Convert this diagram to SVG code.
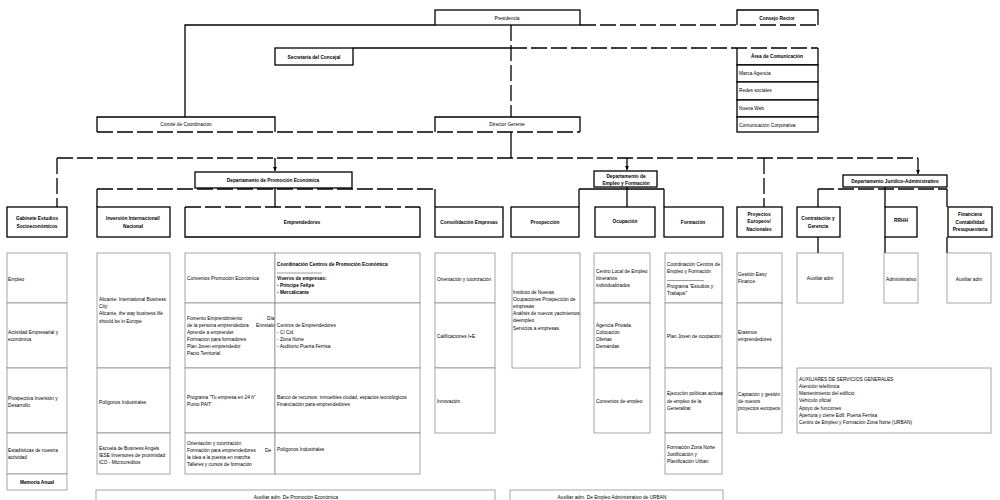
<svg xmlns="http://www.w3.org/2000/svg" width="1000" height="500" viewBox="0 0 1000 500">
<style>
.b{fill:#fff;stroke:#000;stroke-width:1.3}
.o{fill:none;stroke:#000;stroke-width:1.3}
.c{fill:#fff;stroke:#808080;stroke-width:0.7}
.t{font-family:"Liberation Sans",Arial,sans-serif;font-size:4.8px;fill:#000}
.h{font-weight:bold;text-anchor:middle}
.m{text-anchor:middle}
.k{font-weight:bold}
.s{fill:none;stroke:#000;stroke-width:1.3}
.d{fill:none;stroke:#000;stroke-width:1.3;stroke-dasharray:16 4}
</style>
<defs>
<marker id="arr" viewBox="0 0 6 6" refX="6" refY="3" markerWidth="3" markerHeight="3" orient="auto"><path d="M0,0 L6,3 L0,6 z" fill="#000"/></marker>
</defs>
<rect width="1000" height="500" fill="#fff"/>

<g id="connectors">
<polyline class="s" points="185,117 185,25 435,25"/>
<line class="d" x1="580" y1="25" x2="818" y2="25"/>
<line class="s" x1="353" y1="48" x2="511" y2="48"/>
<line class="d" x1="511" y1="48" x2="818" y2="48"/>
<line class="d" x1="511" y1="25" x2="511" y2="117"/>
<line class="d" x1="97" y1="132" x2="580" y2="132"/>
<line class="s" x1="511" y1="132" x2="511" y2="158"/>
<line class="d" x1="57" y1="158" x2="918" y2="158"/>
<line class="d" x1="57" y1="158" x2="57" y2="207"/>
<line class="s" x1="275" y1="158" x2="275" y2="171" marker-end="url(#arr)"/>
<line class="s" x1="627" y1="158" x2="627" y2="170" marker-end="url(#arr)"/>
<line class="d" x1="764" y1="158" x2="764" y2="207"/>
<line class="s" x1="918" y1="158" x2="918" y2="174" marker-end="url(#arr)"/>
<line class="d" x1="97" y1="189" x2="435" y2="189"/>
<line class="s" x1="97" y1="189" x2="97" y2="207"/>
<line class="s" x1="275" y1="188" x2="275" y2="207"/>
<line class="s" x1="435" y1="189" x2="435" y2="207"/>
<line class="s" x1="579" y1="189" x2="664" y2="189"/>
<line class="s" x1="579" y1="189" x2="579" y2="207"/>
<line class="s" x1="627" y1="187" x2="627" y2="207"/>
<line class="s" x1="664" y1="189" x2="664" y2="207"/>
<line class="d" x1="818" y1="189" x2="947" y2="189"/>
<line class="s" x1="818" y1="189" x2="818" y2="207"/>
<line class="s" x1="885" y1="187" x2="885" y2="207"/>
<line class="s" x1="947" y1="189" x2="947" y2="207"/>
<line class="s" x1="818" y1="237" x2="818" y2="253"/>
<line class="s" x1="885" y1="237" x2="885" y2="253"/>
<line class="s" x1="947" y1="237" x2="947" y2="253"/>
</g>

<g id="presidencia"><rect class="b" x="435" y="10" width="145" height="15"/><text class="t m" x="507" y="19.5">Presidencia</text></g>
<g id="consejo-rector"><path class="o" d="M737,25 V10 H818 V25" fill="#fff"/><text class="t h" x="777" y="19.5">Consejo Rector</text></g>
<g id="secretaria"><rect class="b" x="275" y="48" width="78" height="17"/><text class="t h" x="314" y="58.5">Secretaría del Concejal</text></g>
<g id="area-comunicacion">
<path class="o" d="M737,48 V65 H818 V48"/>
<text class="t h" x="777" y="57.5">Área de Comunicación</text>
<rect class="b" x="737" y="65" width="81" height="17"/><text class="t" x="739" y="75">Marca Agencia</text>
<rect class="b" x="737" y="82" width="81" height="18"/><text class="t" x="739" y="92">Redes sociales</text>
<rect class="b" x="737" y="100" width="81" height="17"/><text class="t" x="739" y="110">Nueva Web</text>
<rect class="b" x="737" y="117" width="81" height="15"/><text class="t" x="739" y="126.5">Comunicación  Corporativa</text>
</g>
<g id="comite"><path class="o" d="M97,132 V117 H275 V132"/><text class="t m" x="186" y="126">Comité de Coordinación</text></g>
<g id="director"><path class="o" d="M435,132 V117 H580 V132"/><text class="t m" x="507" y="126">Director Gerente</text></g>

<g id="dep-promocion"><rect class="b" x="195" y="172" width="157" height="16"/><text class="t h" x="273" y="181.5">Departamento de Promoción Económica</text></g>
<g id="dep-empleo"><rect class="b" x="594" y="171" width="63" height="16"/><text class="t h" x="626" y="177.5">Departamento de</text><text class="t h" x="626" y="185">Empleo y Formación</text></g>
<g id="dep-juridico"><rect class="b" x="843" y="175" width="104" height="12"/><text class="t h" x="895" y="182.5">Departamento Jurídico-Administrativo</text></g>

<g id="gabinete">
<rect class="b" x="7" y="207" width="60" height="30"/>
<text class="t h" x="37" y="219.5">Gabinete Estudios</text><text class="t h" x="37" y="227.5">Socioeconómicos</text>
<rect class="c" x="7" y="253" width="60" height="50"/><text class="t" x="8" y="280.5">Empleo</text>
<rect class="c" x="7" y="303" width="60" height="65"/><text class="t" x="8" y="333.5">Actividad Empresarial y</text><text class="t" x="8" y="341">económica</text>
<rect class="c" x="7" y="368" width="60" height="65"/><text class="t" x="8" y="399.5">Prospectiva  Inversión y</text><text class="t" x="8" y="407">Desarrollo</text>
<rect class="c" x="7" y="433" width="60" height="41"/><text class="t" x="8" y="451.5">Estadísticas de nuestra</text><text class="t" x="8" y="459">actividad</text>
<rect class="c" x="7" y="474" width="60" height="16"/><text class="t h" x="37" y="483.5">Memoria Anual</text>
</g>

<g id="inversion">
<rect class="b" x="97" y="207" width="73" height="30"/>
<text class="t h" x="133" y="219.5">Inversión Internacional/</text><text class="t h" x="133" y="227.5">Nacional</text>
<rect class="c" x="97" y="253" width="73" height="115"/>
<text class="t" x="99" y="300.5">Alicante: International Business</text><text class="t" x="99" y="307.5">City:</text><text class="t" x="99" y="315">Alicante, the way business life</text><text class="t" x="99" y="322.5">should be in Europe</text>
<rect class="c" x="97" y="368" width="73" height="65"/><text class="t" x="99" y="403.5">Polígonos Industriales</text>
<rect class="c" x="97" y="433" width="73" height="41"/>
<text class="t" x="99" y="449.5">Escuela de Business Angels</text><text class="t" x="99" y="456.5">IESE   Inversores de proximidad</text><text class="t" x="99" y="463.5">ICO  -  Microcréditos</text>
</g>

<g id="emprendedores">
<path class="o" d="M185,207 V237 H420 V207"/>
<line class="d" x1="185" y1="207" x2="420" y2="207"/>
<text class="t h" x="302" y="223.5">Emprendedores</text>
<rect class="c" x="185" y="253" width="90" height="50"/><text class="t" x="187" y="280">Convenios Promoción Económica</text>
<rect class="c" x="185" y="303" width="90" height="65"/>
<text class="t" x="187" y="319.5">Fomento Emprendimiento</text><text class="t" x="267" y="319.5">Día</text>
<text class="t" x="187" y="326.5">de la persona emprendedora</text><text class="t" x="256" y="326.5">Ennstalo</text>
<text class="t" x="187" y="333.5">Aprende a emprender</text><text class="t" x="187" y="340.5">Formacion para formadores</text><text class="t" x="187" y="347.5">Plan Joven emprendedor</text><text class="t" x="187" y="354.5">Pacto Territorial</text>
<rect class="c" x="185" y="368" width="90" height="65"/>
<text class="t" x="187" y="399">Programa "Tu empresa en 24 h"</text><text class="t" x="187" y="406">Punto PAIT</text>
<rect class="c" x="185" y="433" width="90" height="41"/>
<text class="t" x="187" y="444.5">Orientación y tutorización</text><text class="t" x="187" y="451.5">Formación para emprendedores</text><text class="t" x="265" y="451.5">De</text><text class="t" x="187" y="458.5">la idea a la puesta en marcha</text><text class="t" x="187" y="465.5">Talleres y cursos de formación</text>
<rect class="c" x="275" y="253" width="145" height="50"/>
<text class="t k" x="277" y="265.5">Coordinación Centros de Promoción Económica</text>
<line x1="277" y1="273" x2="322" y2="273" stroke="#000" stroke-width="0.4"/>
<text class="t k" x="277" y="280">Viveros de empresas:</text><text class="t k" x="277" y="287">- Príncipe Felipe</text><text class="t k" x="277" y="294">- Mercalicante</text>
<rect class="c" x="275" y="303" width="145" height="65"/>
<text class="t" x="277" y="326.5">Centros de Emprendedores</text><text class="t" x="277" y="333.5">- C/ Cid</text><text class="t" x="277" y="340.5">- Zona Norte</text><text class="t" x="277" y="347.5">- Auditorio Puerta Ferrisa</text>
<rect class="c" x="275" y="368" width="145" height="65"/>
<text class="t" x="277" y="399">Banco de recursos: inmuebles ciudad, espacios tecnológicos</text><text class="t" x="277" y="406">Financiación para emprendedores</text>
<rect class="c" x="275" y="433" width="145" height="41"/><text class="t" x="277" y="451">Polígonos Industriales</text>
</g>

<g id="consolidacion">
<rect class="b" x="435" y="207" width="68" height="30"/><text class="t h" x="469" y="223.5">Consolidación Empresas</text>
<rect class="c" x="435" y="253" width="60" height="50"/><text class="t" x="437" y="280.5">Orientación y tutorización</text>
<rect class="c" x="435" y="303" width="60" height="65"/><text class="t" x="437" y="337.5">Calificaciones I+E</text>
<rect class="c" x="435" y="368" width="60" height="65"/><text class="t" x="437" y="402.5">Innovación</text>
</g>

<g id="prospeccion">
<rect class="b" x="511" y="207" width="68" height="30"/><text class="t h" x="545" y="223.5">Prospección</text>
<rect class="c" x="512" y="253" width="68" height="115"/>
<text class="t" x="513" y="293.5">Instituto de Nuevas</text><text class="t" x="513" y="300.5">Ocupaciones   Prospección de</text><text class="t" x="513" y="308">empresas</text><text class="t" x="513" y="315">Análisis de nuevos yacimientos</text><text class="t" x="513" y="322">deempleo</text><text class="t" x="513" y="329.5">Servicios a empresas.</text>
</g>

<g id="ocupacion">
<rect class="b" x="595" y="207" width="60" height="30"/><text class="t h" x="625" y="222.5">Ocupación</text>
<rect class="c" x="594" y="253" width="56" height="50"/>
<text class="t" x="596" y="272.5">Centro Local de Empleo</text><text class="t" x="596" y="279.5">Itinerarios</text><text class="t" x="596" y="286.5">individualizados</text>
<rect class="c" x="594" y="303" width="56" height="65"/>
<text class="t" x="596" y="326.5">Agencia Privada</text><text class="t" x="596" y="333.5">Colocación</text><text class="t" x="596" y="340.5">Ofertas</text><text class="t" x="596" y="347.5">Demandas</text>
<rect class="c" x="594" y="368" width="56" height="65"/><text class="t" x="596" y="402.5">Convenios de empleo</text>
</g>

<g id="formacion">
<rect class="b" x="664" y="207" width="59" height="30"/><text class="t h" x="693" y="223.5">Formación</text>
<rect class="c" x="665" y="253" width="57" height="50"/>
<text class="t" x="667" y="265.5">Coordinación Centros de</text><text class="t" x="667" y="273">Empleo y Formación</text>
<line x1="667" y1="280.5" x2="704" y2="280.5" stroke="#000" stroke-width="0.4"/>
<text class="t" x="667" y="287.5">Programa "Estudios y</text><text class="t" x="667" y="294.5">Trabajos"</text>
<rect class="c" x="665" y="303" width="57" height="65"/><text class="t" x="667" y="337.5">Plan Joven de ocupación</text>
<rect class="c" x="665" y="368" width="57" height="65"/>
<text class="t" x="667" y="395">Ejecución políticas activas</text><text class="t" x="667" y="402.5">de empleo de la</text><text class="t" x="667" y="409.5">Generalitat</text>
<rect class="c" x="665" y="433" width="57" height="41"/>
<text class="t" x="667" y="448.5">Formación Zona Norte</text><text class="t" x="667" y="455.5">Justificación y</text><text class="t" x="667" y="463">Planificación Urban</text>
</g>

<g id="proyectos">
<rect class="b" x="737" y="207" width="45" height="30"/>
<text class="t h" x="759" y="215.5">Proyectos</text><text class="t h" x="759" y="223">Europeos/</text><text class="t h" x="759" y="230.5">Nacionales</text>
<rect class="c" x="737" y="253" width="45" height="50"/><text class="t" x="738" y="275.5">Gestión Easy</text><text class="t" x="738" y="283">Finance</text>
<rect class="c" x="737" y="303" width="45" height="65"/><text class="t" x="738" y="333.5">Erasmus</text><text class="t" x="738" y="340.5">emprendedores</text>
<rect class="c" x="737" y="368" width="45" height="65"/><text class="t" x="738" y="395.5">Captación y gestión</text><text class="t" x="738" y="402.5">de nuevos</text><text class="t" x="738" y="409.5">proyectos europeos</text>
</g>

<g id="contratacion">
<rect class="b" x="797" y="207" width="43" height="30"/><text class="t h" x="818" y="219.5">Contratación y</text><text class="t h" x="818" y="227.5">Gerencia</text>
<rect class="c" x="797" y="253" width="46" height="50"/><text class="t m" x="820" y="280">Auxiliar adm</text>
</g>
<g id="rrhh">
<rect class="b" x="885" y="207" width="32" height="30"/><text class="t h" x="901" y="221.5">RRHH</text>
<rect class="c" x="884" y="253" width="34" height="50"/><text class="t m" x="901" y="280.5">Administrativo</text>
</g>
<g id="financiera">
<rect class="b" x="948" y="207" width="44" height="30"/>
<text class="t h" x="970" y="215.5">Financiera</text><text class="t h" x="970" y="223.5">Contabilidad</text><text class="t h" x="970" y="230.5">Presupuestaria</text>
<rect class="c" x="947" y="253" width="44" height="50"/><text class="t m" x="969" y="280.5">Auxiliar adm</text>
</g>
<g id="auxiliares">
<rect class="c" x="797" y="368" width="194" height="65"/>
<text class="t" x="799" y="380.5">AUXILIARES DE SERVICIOS GENERALES</text>
<text class="t" x="799" y="387.5">Atención telefónica</text>
<text class="t" x="799" y="395">Mantenimiento del edificio</text>
<text class="t" x="799" y="402">Vehículo oficial</text>
<text class="t" x="799" y="409.5">Apoyo de funciones</text>
<text class="t" x="799" y="416.5">Apertura y cierre Edif. Puerta Ferrisa</text>
<text class="t" x="799" y="423.5">Centro de Empleo y Formación Zona Norte (URBAN)</text>
</g>
<g id="aux-promocion"><rect class="c" x="96" y="490" width="399" height="15"/><text class="t m" x="296" y="498.5">Auxiliar adm. De Promoción Económica</text></g>
<g id="aux-empleo"><rect class="c" x="510" y="490" width="213" height="15"/><text class="t m" x="612" y="498.5">Auxiliar adm. De Empleo   Administrativo de URBAN</text></g>
</svg>
